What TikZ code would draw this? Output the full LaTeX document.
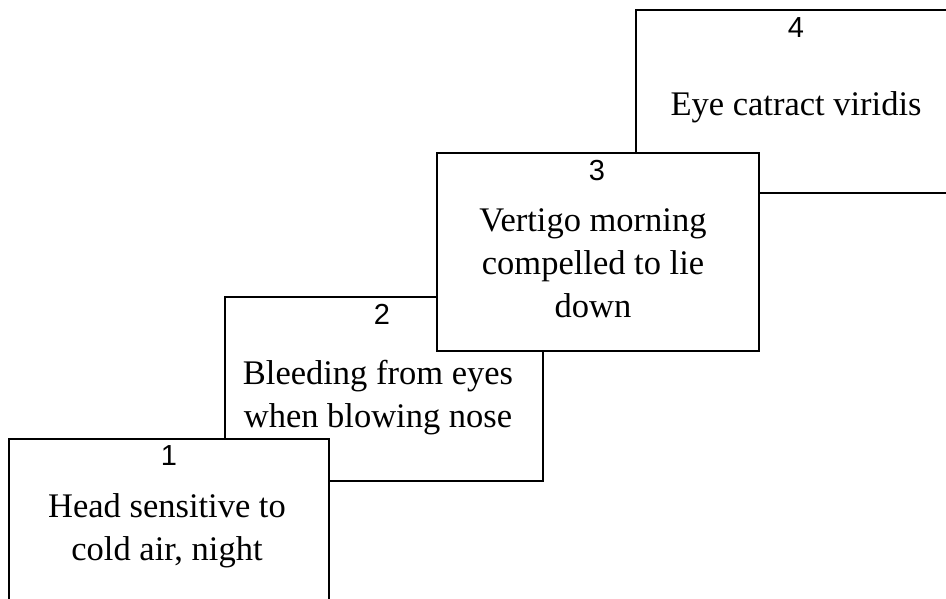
\documentclass[tikz,border=0pt]{standalone}
\usepackage{fontspec}
\setmainfont{Liberation Serif}
\newfontfamily\numfont{Liberation Sans}
\begin{document}
\begin{tikzpicture}[x=1pt,y=-1pt,
  card/.style={draw=black,fill=white,line width=1.3pt,rectangle,inner sep=0pt},
  num/.style={font=\numfont\fontsize{29}{32}\selectfont,inner sep=0pt},
  body/.style={font=\fontsize{34.5}{43}\selectfont,align=center,inner sep=0pt}]
\useasboundingbox (0,0) rectangle (946,599);
\clip (0,0) rectangle (946,599);
% box 4 (back)
\node[card,minimum width=334pt,minimum height=183pt] (b4) at (803,101.5) {};
% box 2 (back)
\node[card,minimum width=318pt,minimum height=184pt] (b2) at (384,389) {};
% box 3
\node[card,minimum width=322pt,minimum height=198pt] (b3) at (598,252) {};
% box 1
\node[card,minimum width=320pt,minimum height=200pt] (b1) at (169,539) {};
% numbers
\node[num] (n1) at (169,455.5) {1};
\node[num] (n2) at (382,314) {2};
\node[num] (n3) at (597,170.5) {3};
\node[num] (n4) at (796,28) {4};
% texts
\node[body] (t1) at (167,531) {Head sensitive to\\cold air, night};
\node[body] (t2) at (378,398) {Bleeding from eyes\\when blowing nose};
\node[body] (t3) at (593,263) {Vertigo morning\\compelled to lie\\down};
\node[body] (t4) at (796,107) {Eye catract viridis};
\end{tikzpicture}
\end{document}
